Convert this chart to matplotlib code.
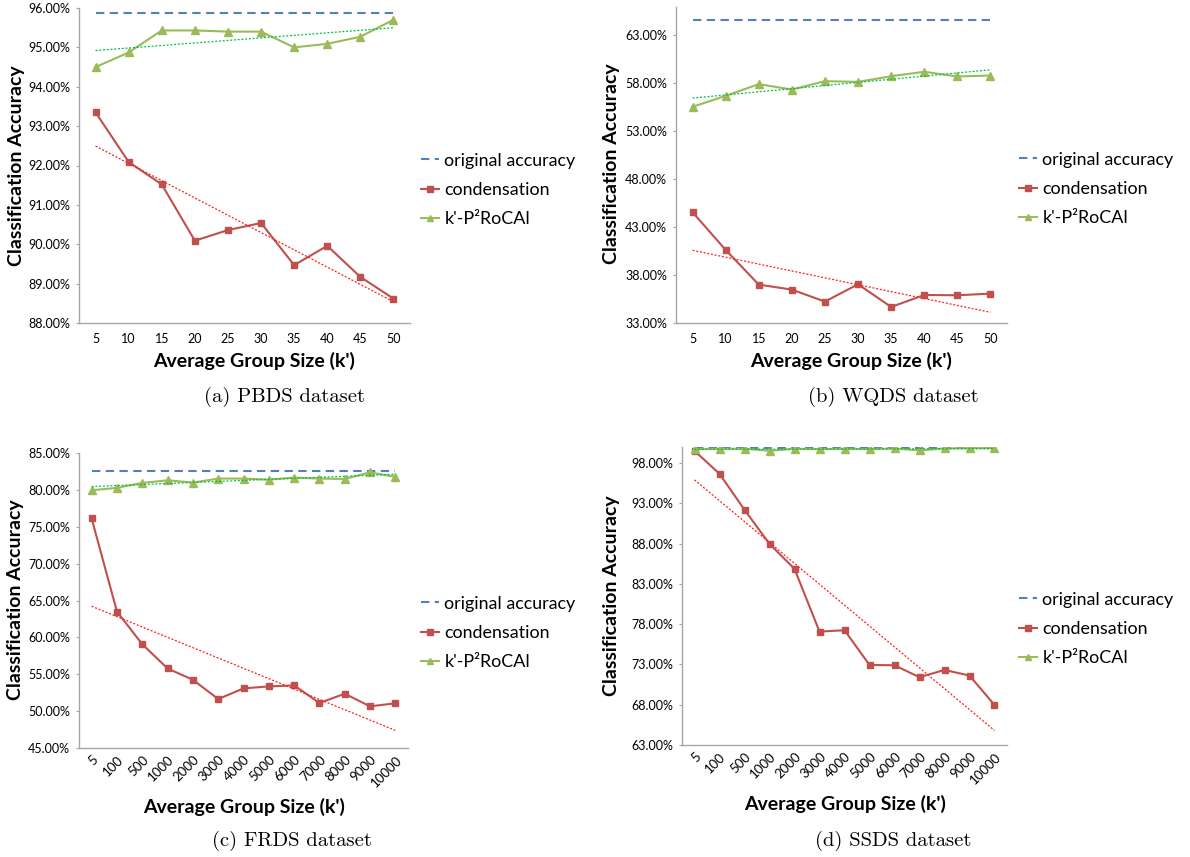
import numpy as np
import matplotlib
matplotlib.use('Agg')
import matplotlib.pyplot as plt
from matplotlib.ticker import FuncFormatter

W, H = 1190, 857

# ---- data (accuracy in %) ----
k_small = ['5', '10', '15', '20', '25', '30', '35', '40', '45', '50']
k_large = ['5', '100', '500', '1000', '2000', '3000', '4000', '5000',
           '6000', '7000', '8000', '9000', '10000']

pbds_orig = 95.87
pbds_cond = [93.35, 92.09, 91.52, 90.09, 90.36, 90.54, 89.47, 89.96, 89.17, 88.62]
pbds_p2 = [94.50, 94.87, 95.43, 95.43, 95.40, 95.40, 95.00, 95.09, 95.27, 95.70]

wqds_orig = 64.56
wqds_cond = [44.54, 40.62, 37.00, 36.48, 35.23, 37.04, 34.67, 35.92, 35.89, 36.06]
wqds_p2 = [55.53, 56.67, 57.89, 57.33, 58.20, 58.13, 58.72, 59.18, 58.69, 58.79]

frds_orig = 82.52
frds_cond = [76.12, 63.49, 59.07, 55.78, 54.25, 51.64, 53.08, 53.35, 53.49,
             51.10, 52.36, 50.65, 51.06]
frds_p2 = [79.95, 80.27, 80.94, 81.30, 80.99, 81.53, 81.53, 81.39, 81.66,
           81.53, 81.48, 82.38, 81.75]

ssds_orig = 99.90
ssds_cond = [99.53, 96.67, 92.20, 87.97, 84.87, 77.08, 77.25, 72.94, 72.90,
             71.41, 72.32, 71.62, 67.97]
ssds_p2 = [99.74, 99.78, 99.78, 99.53, 99.78, 99.74, 99.78, 99.74, 99.82,
           99.57, 99.82, 99.86, 99.86]

BLUE = '#4F81BD'
RED = '#C0504D'
GREEN = '#9BBB59'
AXIS = '#A6A6A6'
SANS = ['Lato', 'DejaVu Sans']

plt.rcParams.update({
    'font.family': SANS,
    'font.size': 9,
})


def rect(l, t, r, b):
    return [l / W, 1 - b / H, (r - l) / W, (b - t) / H]


def panel(fig, box, cats, orig, cond, p2, ylim, yticks, rotate,
          ylab_xy, xlab_xy, cap_xy, caption, leg_xy):
    ax = fig.add_axes(rect(*box))
    x = np.arange(len(cats))

    l_orig, = ax.plot([x[0], x[-1]], [orig, orig], color=BLUE, lw=1.5,
                      dashes=(4, 2.6), label='original accuracy')
    l_cond, = ax.plot(x, cond, color=RED, lw=1.5, marker='s', ms=4.8,
                      label='condensation')
    l_p2, = ax.plot(x, p2, color=GREEN, lw=1.5, marker='^', ms=5.2,
                    label="k'-P²RoCAl")

    # linear trend lines, as Excel draws them
    for vals, col in ((cond, '#FF2020'), (p2, '#00C040')):
        a, b = np.polyfit(x, vals, 1)
        ax.plot([x[0], x[-1]], [a * x[0] + b, a * x[-1] + b], color=col,
                lw=0.9, ls=(0, (1.6, 1.4)))

    ax.set_xlim(-0.5, len(cats) - 0.5)
    ax.set_ylim(*ylim)
    ax.set_yticks(yticks)
    ax.yaxis.set_major_formatter(FuncFormatter(lambda v, p: f'{v:.2f}%'))
    ax.set_xticks(x)
    if rotate:
        ax.set_xticklabels(cats, rotation=45, ha='right', va='top',
                           rotation_mode='anchor')
        ax.tick_params(axis='x', length=0, pad=4, labelsize=9.5)
    else:
        ax.set_xticklabels(cats)
        ax.tick_params(axis='x', length=0, pad=7, labelsize=9)
    ax.tick_params(axis='y', length=2.5, width=0.8, color=AXIS, pad=4,
                   labelsize=9)

    for s in ('top', 'right'):
        ax.spines[s].set_visible(False)
    for s in ('left', 'bottom'):
        ax.spines[s].set_color(AXIS)
        ax.spines[s].set_linewidth(1.0)

    fig.text(ylab_xy[0] / W, 1 - ylab_xy[1] / H, 'Classification Accuracy',
             rotation=90, ha='center', va='center', fontsize=14,
             fontweight='bold')
    fig.text(xlab_xy[0] / W, 1 - xlab_xy[1] / H, "Average Group Size (k')",
             ha='center', va='center', fontsize=14, fontweight='bold')
    fig.text(cap_xy[0] / W, 1 - cap_xy[1] / H, caption, ha='center',
             va='center', fontsize=14.8, family='cmr10')

    fig.legend(handles=[l_orig, l_cond, l_p2], loc='center left',
               bbox_to_anchor=(leg_xy[0] / W, 1 - leg_xy[1] / H),
               frameon=False, fontsize=12.9, handlelength=1.0,
               handletextpad=0.3, labelspacing=0.74, borderpad=0,
               borderaxespad=0, markerscale=0.8)
    return ax


fig = plt.figure(figsize=(W / 100, H / 100), dpi=100)

panel(fig, (79, 8, 410, 323), k_small, pbds_orig, pbds_cond, pbds_p2,
      (88, 96), np.arange(88, 96.5, 1), False,
      (17, 166), (254, 361), (285, 397), '(a) PBDS dataset', (421, 190))

panel(fig, (676, 7.3, 1007, 323), k_small, wqds_orig, wqds_cond, wqds_p2,
      (33, 65.9), np.arange(33, 64, 5), False,
      (611, 164), (851, 361), (893, 397), '(b) WQDS dataset', (1019, 189))

panel(fig, (79, 453, 408, 748), k_large, frds_orig, frds_cond, frds_p2,
      (45, 85), np.arange(45, 86, 5), True,
      (16, 600), (244, 807), (292, 841), '(c) FRDS dataset', (421, 633))

panel(fig, (682, 447, 1007, 745), k_large, ssds_orig, ssds_cond, ssds_p2,
      (63, 100), np.arange(63, 99, 5), True,
      (611, 596), (845, 804), (893, 841), '(d) SSDS dataset', (1019, 629))

fig.savefig('out.png', dpi=100)
